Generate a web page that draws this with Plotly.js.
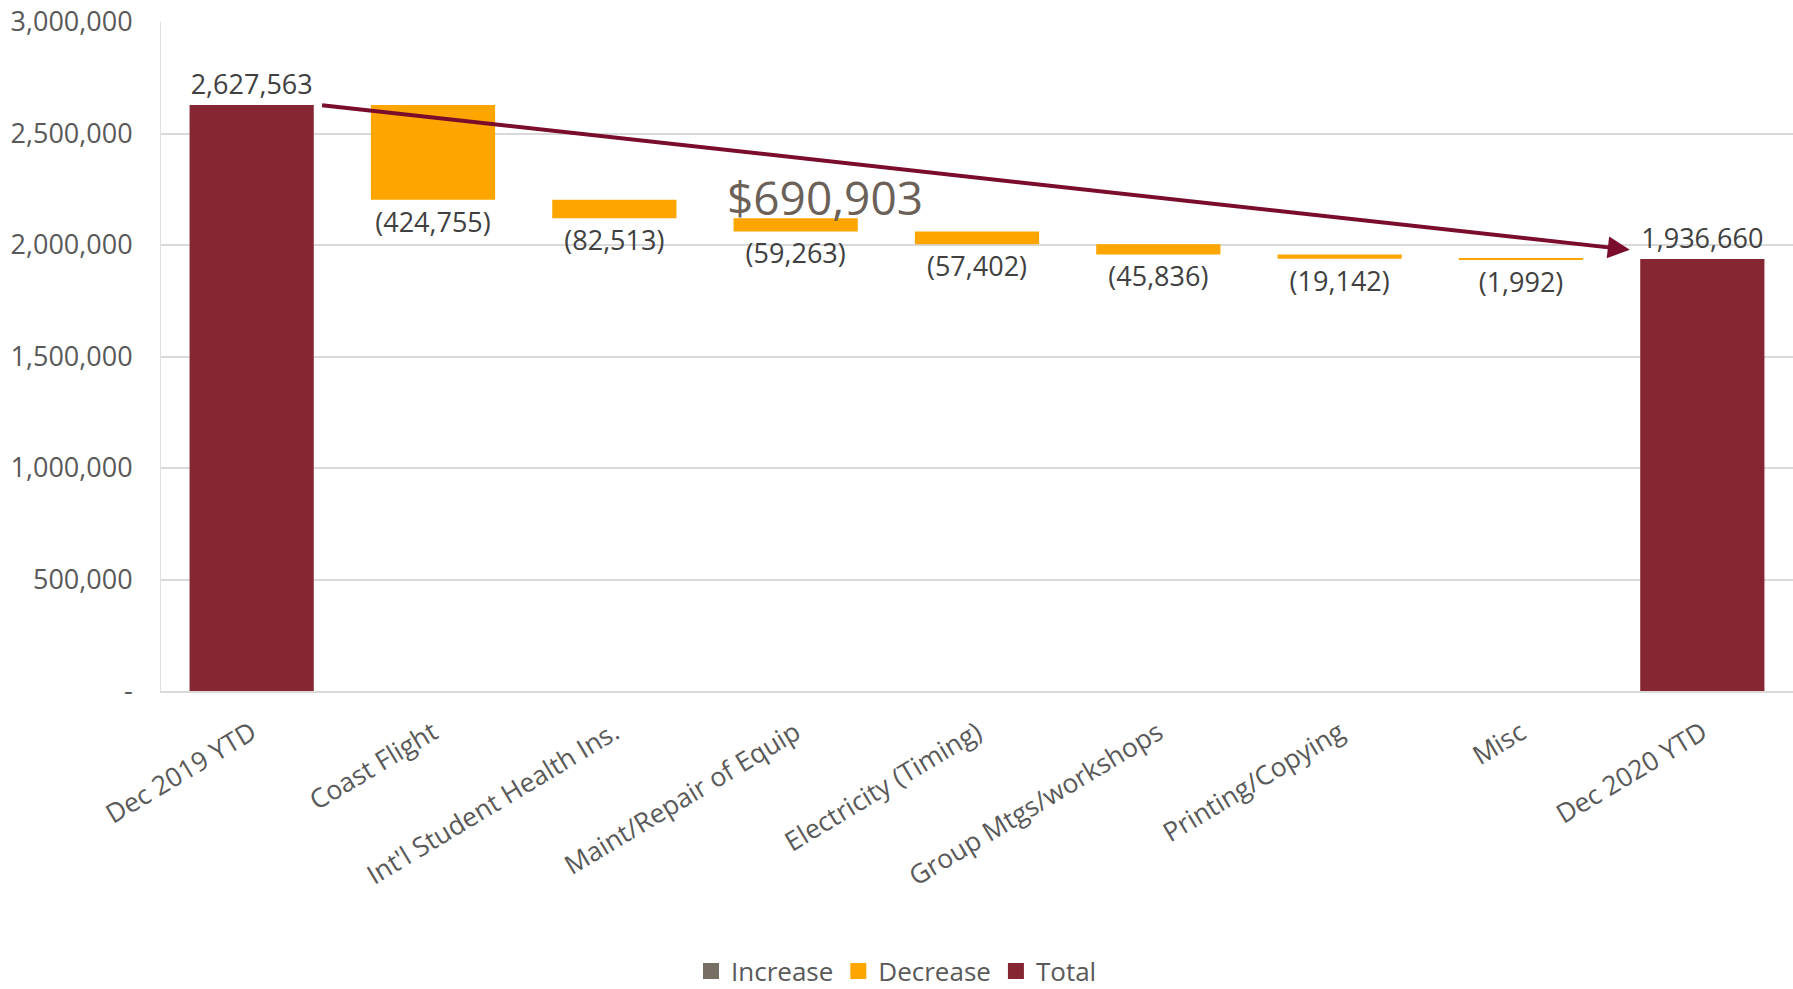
<!DOCTYPE html>
<html>
<head>
<meta charset="utf-8">
<script src="https://cdn.plot.ly/plotly-3.0.1.min.js"></script>
<style>
  html, body { margin: 0; padding: 0; background: #ffffff; }
  #chart { width: 1793px; height: 989px; }
</style>
</head>
<body>
<div id="chart"></div>
<script>
const categories = ["Dec 2019 YTD", "Coast Flight", "Int'l Student Health Ins.", "Maint/Repair of Equip",
  "Electricity (Timing)", "Group Mtgs/workshops", "Printing/Copying", "Misc", "Dec 2020 YTD"];
const measures = ["absolute", "relative", "relative", "relative", "relative", "relative", "relative", "relative", "total"];
const values = [2627563, -424755, -82513, -59263, -57402, -45836, -19142, -1992, 0];
const yTickVals = [0, 500000, 1000000, 1500000, 2000000, 2500000, 3000000];
const yTickText = ["-", "500,000", "1,000,000", "1,500,000", "2,000,000", "2,500,000", "3,000,000"];
const legendNames = ["Increase", "Decrease", "Total"];

const colIncrease = "#776e64";
const colDecrease = "#ffa500";
const colTotal = "#862633";

const fmt = v => Math.abs(v).toLocaleString("en-US");
const startTotal = values[0];
const endTotal = values.reduce((a, b) => a + b, 0);
const labels = values.map((v, i) => {
  if (measures[i] === "total") return fmt(endTotal);
  if (v < 0) return "(" + fmt(v) + ")";
  return fmt(v);
});

const font = "Open Sans, Noto Sans, sans-serif";

const traces = [{
  type: "waterfall",
  x: categories,
  y: values,
  measure: measures,
  text: labels,
  textinfo: "text",
  textposition: "outside",
  cliponaxis: false,
  textfont: { family: font, size: 27, color: "#404040" },
  increasing: { marker: { color: colIncrease } },
  decreasing: { marker: { color: colDecrease } },
  totals: { marker: { color: colTotal } },
  connector: { visible: false },
  showlegend: false,
  hoverinfo: "x+y"
}];
[colIncrease, colDecrease, colTotal].forEach((c, i) => {
  traces.push({
    type: "scatter", mode: "markers", x: [null], y: [null], name: legendNames[i],
    marker: { color: c, symbol: "square", size: 24 }, showlegend: true, hoverinfo: "skip"
  });
});

const layout = {
  width: 1793, height: 989,
  margin: { l: 161, r: 0, t: 22, b: 298 },
  paper_bgcolor: "#ffffff", plot_bgcolor: "#ffffff",
  waterfallgap: 0.315,
  font: { family: font, color: "#595959", size: 26 },
  xaxis: {
    type: "category",
    tickangle: -31,
    tickfont: { family: font, size: 26.5, color: "#595959" },
    showline: true, linecolor: "#d9d9d9", linewidth: 2,
    showgrid: false, ticks: "", ticklabelstandoff: 14
  },
  yaxis: {
    range: [0, 3000000],
    tickvals: yTickVals, ticktext: yTickText,
    tickfont: { family: font, size: 27, color: "#595959" },
    showgrid: true, gridcolor: "#d9d9d9", gridwidth: 2,
    showline: true, linecolor: "#e0e0e0", linewidth: 1,
    zeroline: false, ticks: "", ticklabelstandoff: 22
  },
  legend: {
    orientation: "h", xref: "container", yref: "container",
    x: 0.5, xanchor: "center", y: 0.018, yanchor: "middle",
    font: { family: font, size: 26, color: "#595959" },
    traceorder: "normal", itemwidth: 30
  },
  annotations: [
    {
      xref: "x", yref: "y", axref: "x", ayref: "y",
      x: 7.6, y: endTotal + 42000,
      ax: 0.38, ay: startTotal,
      text: "", showarrow: true,
      arrowhead: 2, arrowsize: 1.1, arrowwidth: 4, arrowcolor: "#7b0d2c"
    },
    {
      xref: "x", yref: "y",
      x: 3.16, y: 2215000,
      text: "$" + (startTotal - endTotal).toLocaleString("en-US"),
      showarrow: false,
      font: { family: font, size: 46, color: "#6b6159" }
    }
  ]
};

Plotly.newPlot("chart", traces, layout, { displayModeBar: false });
</script>
</body>
</html>
